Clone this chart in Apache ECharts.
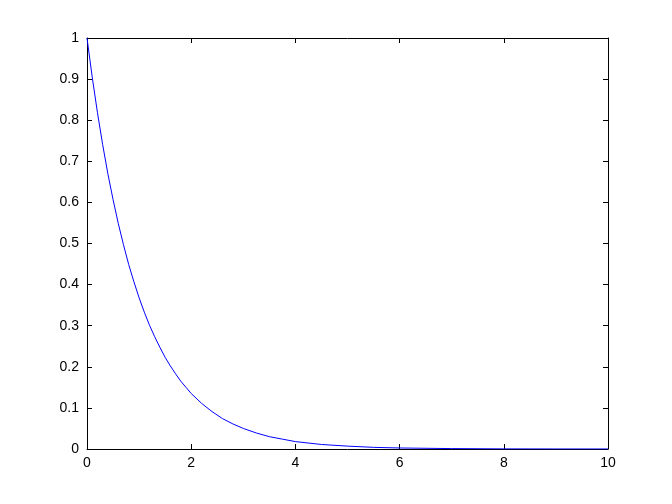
<!DOCTYPE html>
<html><head><meta charset="utf-8">
<script src="https://cdn.jsdelivr.net/npm/echarts@6/dist/echarts.min.js"></script>
<style>html,body{margin:0;padding:0;background:#fff}#c{width:672px;height:504px}</style>
</head><body><div id="c"></div>
<script>
const xValues = [0,0.1,0.2,0.3,0.4,0.5,0.6,0.7,0.8,0.9,1.0,1.1,1.2,1.3,1.4,1.5,1.6,1.7,1.8,1.9,2.0,2.2,2.4,2.6,2.8,3.0,3.25,3.5,3.75,4,4.5,5,5.5,6,7,8,9,10];
const yValues = [1.000,0.905,0.819,0.741,0.670,0.607,0.549,0.497,0.449,0.407,0.368,0.333,0.301,0.273,0.247,0.223,0.202,0.183,0.165,0.150,0.135,0.111,0.091,0.074,0.061,0.050,0.039,0.030,0.024,0.018,0.011,0.007,0.004,0.0025,0.001,0.0003,0.0001,0.00005];
const xTicks = [0,2,4,6,8,10];
const yTicks = [0,0.1,0.2,0.3,0.4,0.5,0.6,0.7,0.8,0.9,1];

const chart = echarts.init(document.getElementById('c'), null, {renderer:'canvas'});
const axisFont = {color:'#000', fontFamily:'Liberation Sans, Arial, sans-serif', fontSize:14};
const lineStyle = {color:'#000', width:1};
chart.setOption({
  animation:false,
  backgroundColor:'#fff',
  grid:{left:87, top:38, right:64, bottom:55, containLabel:false},
  xAxis:[
    {type:'value', min:xTicks[0], max:xTicks[xTicks.length-1], interval:xTicks[1]-xTicks[0], position:'bottom',
     axisLine:{show:true, lineStyle, onZero:false},
     axisTick:{show:true, inside:true, length:5, lineStyle},
     axisLabel:Object.assign({margin:7}, axisFont),
     splitLine:{show:false}},
    {type:'value', min:xTicks[0], max:xTicks[xTicks.length-1], interval:xTicks[1]-xTicks[0], position:'top',
     axisLine:{show:true, lineStyle, onZero:false},
     axisTick:{show:true, inside:true, length:5, lineStyle},
     axisLabel:{show:false}, splitLine:{show:false}}
  ],
  yAxis:[
    {type:'value', min:yTicks[0], max:yTicks[yTicks.length-1], interval:0.1, position:'left',
     axisLine:{show:true, lineStyle, onZero:false},
     axisTick:{show:true, inside:true, length:5, lineStyle},
     axisLabel:Object.assign({margin:8, formatter:v=>String(+v.toFixed(1))}, axisFont),
     splitLine:{show:false}},
    {type:'value', min:yTicks[0], max:yTicks[yTicks.length-1], interval:0.1, position:'right',
     axisLine:{show:true, lineStyle, onZero:false},
     axisTick:{show:true, inside:true, length:5, lineStyle},
     axisLabel:{show:false}, splitLine:{show:false}}
  ],
  series:[{
    type:'line', xAxisIndex:0, yAxisIndex:0,
    data:xValues.map((x,i)=>[x,yValues[i]]),
    showSymbol:false, smooth:false,
    lineStyle:{color:'#0000ff', width:1},
    clip:true
  }]
});
</script></body></html>
